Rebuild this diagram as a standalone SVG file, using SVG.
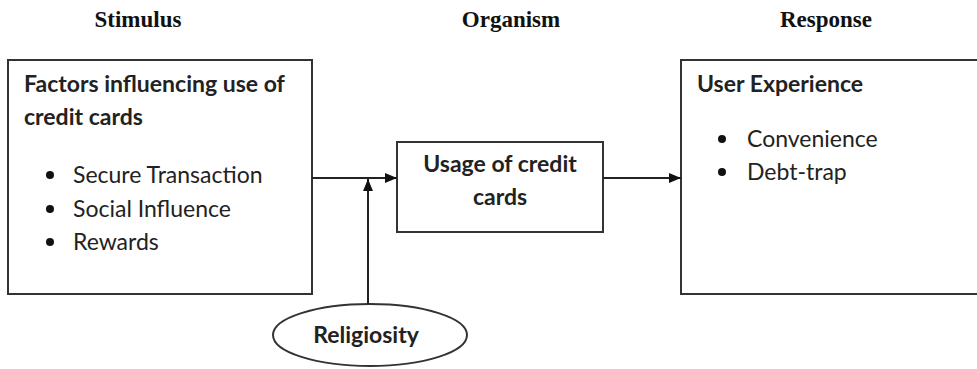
<svg xmlns="http://www.w3.org/2000/svg" width="977" height="369" viewBox="0 0 977 369">
<style>
.hdr{font-family:"Liberation Serif",serif;font-weight:bold;font-size:23px;fill:#111;text-anchor:middle}
.t{font-family:Lato,"Liberation Sans",sans-serif;font-size:23px;fill:#222}
.b{font-weight:bold}
.box{fill:#fff;stroke:#333;stroke-width:2}
.ln{stroke:#222;stroke-width:2;fill:none}
.dot{fill:#111}
</style>
<defs>
<marker id="ah" viewBox="0 0 12 10" refX="12" refY="5" markerWidth="12" markerHeight="10" markerUnits="userSpaceOnUse" orient="auto">
<path d="M0,0 L12,5 L0,10 z" fill="#111"/>
</marker>
</defs>
<rect width="977" height="369" fill="#fff"/>
<text class="hdr" x="138" y="27">Stimulus</text>
<text class="hdr" x="511" y="27">Organism</text>
<text class="hdr" x="826" y="27">Response</text>

<g id="stimulus">
<rect class="box" x="8" y="60" width="304" height="234"/>
<text class="t b" x="24" y="92">Factors influencing use of</text>
<text class="t b" x="24" y="125">credit cards</text>
<circle class="dot" cx="50" cy="175" r="4"/>
<text class="t" x="73" y="183">Secure Transaction</text>
<circle class="dot" cx="50" cy="209" r="4"/>
<text class="t" x="73" y="217">Social Influence</text>
<circle class="dot" cx="50" cy="242" r="4"/>
<text class="t" x="73" y="250">Rewards</text>
</g>

<g id="organism">
<rect class="box" x="397" y="142" width="206" height="90"/>
<text class="t b" x="500" y="172" text-anchor="middle">Usage of credit</text>
<text class="t b" x="500" y="205" text-anchor="middle">cards</text>
</g>

<g id="response">
<rect class="box" x="681" y="60" width="300" height="234"/>
<text class="t b" x="697" y="92">User Experience</text>
<circle class="dot" cx="722" cy="139" r="4"/>
<text class="t" x="747" y="147">Convenience</text>
<circle class="dot" cx="722" cy="172" r="4"/>
<text class="t" x="747" y="180">Debt-trap</text>
</g>

<g id="religiosity">
<ellipse class="box" cx="370" cy="335" rx="97" ry="31"/>
<text class="t b" x="366" y="343" text-anchor="middle">Religiosity</text>
</g>

<g id="connectors">
<line class="ln" x1="312" y1="178" x2="397" y2="178" marker-end="url(#ah)"/>
<line class="ln" x1="368" y1="304" x2="368" y2="179" marker-end="url(#ah)"/>
<line class="ln" x1="603" y1="178" x2="681" y2="178" marker-end="url(#ah)"/>
</g>
</svg>
